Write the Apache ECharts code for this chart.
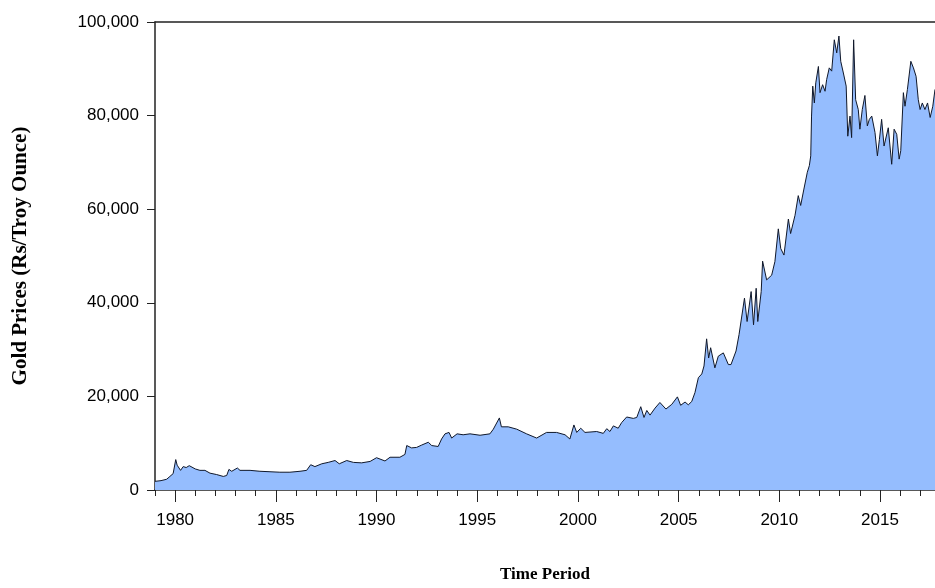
<!DOCTYPE html>
<html>
<head>
<meta charset="utf-8">
<title>Gold Prices</title>
<script src="https://cdn.jsdelivr.net/npm/echarts@6/dist/echarts.min.js"></script>
<style>
  html, body { margin: 0; padding: 0; background: #fff; }
  #chart { width: 935px; height: 588px; }
</style>
</head>
<body>
<div id="chart"></div>
<script>
// time in decimal years, price in Rs per troy ounce
const dates = [
  1979.00, 1979.30, 1979.58, 1979.74, 1979.90, 1980.03, 1980.10, 1980.16, 1980.27, 1980.40,
  1980.55, 1980.70, 1981.00, 1981.23, 1981.48, 1981.73, 1982.06, 1982.39, 1982.56, 1982.67,
  1982.81, 1983.09, 1983.22, 1983.72, 1984.21, 1984.71, 1985.20, 1985.70, 1986.20, 1986.53,
  1986.73, 1986.94, 1987.28, 1987.60, 1987.94, 1988.15, 1988.52, 1988.85, 1989.26, 1989.68,
  1990.00, 1990.42, 1990.67, 1991.16, 1991.41, 1991.50, 1991.74, 1991.99, 1992.24, 1992.57,
  1992.74, 1993.06, 1993.23, 1993.40, 1993.60, 1993.73, 1994.00, 1994.30, 1994.64, 1995.14,
  1995.63, 1995.80, 1996.10, 1996.20, 1996.54, 1996.96, 1997.45, 1997.95, 1998.44, 1998.94,
  1999.36, 1999.60, 1999.80, 1999.94, 2000.14, 2000.35, 2000.93, 2001.26, 2001.43, 2001.59,
  2001.76, 2002.00, 2002.17, 2002.42, 2002.75, 2002.92, 2003.12, 2003.28, 2003.42, 2003.58,
  2003.83, 2004.07, 2004.37, 2004.66, 2004.94, 2005.10, 2005.32, 2005.48, 2005.65, 2005.81,
  2005.98, 2006.15, 2006.26, 2006.39, 2006.49, 2006.59, 2006.80, 2006.97, 2007.22, 2007.47,
  2007.60, 2007.85, 2008.00, 2008.27, 2008.40, 2008.60, 2008.72, 2008.85, 2008.93, 2009.10,
  2009.17, 2009.37, 2009.62, 2009.78, 2009.95, 2010.07, 2010.23, 2010.45, 2010.56, 2010.78,
  2010.94, 2011.06, 2011.22, 2011.39, 2011.49, 2011.56, 2011.60, 2011.66, 2011.74, 2011.81,
  2011.94, 2012.02, 2012.15, 2012.27, 2012.35, 2012.48, 2012.60, 2012.73, 2012.85, 2012.96,
  2013.05, 2013.18, 2013.32, 2013.40, 2013.51, 2013.59, 2013.69, 2013.79, 2013.92, 2014.00,
  2014.12, 2014.25, 2014.37, 2014.47, 2014.59, 2014.75, 2014.87, 2014.97, 2015.08, 2015.20,
  2015.41, 2015.58, 2015.70, 2015.83, 2015.95, 2016.03, 2016.16, 2016.24, 2016.36, 2016.53,
  2016.66, 2016.79, 2016.90, 2016.99, 2017.10, 2017.23, 2017.36, 2017.49, 2017.62, 2017.73
]
const prices = [
  1850, 2000, 2300, 2900, 3500, 6500, 5300, 4900, 4200, 5000,
  4800, 5200, 4500, 4200, 4200, 3600, 3300, 2900, 3100, 4400,
  4000, 4700, 4200, 4200, 4000, 3900, 3800, 3800, 4000, 4200,
  5400, 5000, 5600, 5900, 6300, 5600, 6300, 5900, 5800, 6100,
  6900, 6200, 7000, 7000, 7600, 9500, 9000, 9100, 9600, 10200,
  9500, 9300, 10900, 12000, 12300, 11100, 12000, 11800, 12000, 11700,
  12000, 13000, 15400, 13500, 13500, 13000, 12000, 11100, 12300, 12300,
  11800, 10900, 13900, 12300, 13200, 12300, 12500, 12100, 13100, 12500,
  13700, 13200, 14400, 15600, 15300, 15500, 17800, 15500, 17000, 16000,
  17500, 18700, 17300, 18300, 19900, 18100, 18800, 18200, 18900, 20800,
  24000, 24800, 26500, 32300, 28200, 30400, 26100, 28600, 29300, 26800,
  26800, 29700, 33200, 41000, 36000, 42400, 35300, 43100, 36000, 42400,
  48900, 44900, 45900, 48800, 55800, 51600, 50200, 57900, 54800, 58700,
  62900, 60800, 64300, 67900, 69300, 71400, 79900, 86300, 82700, 87000,
  90500, 84900, 86600, 85200, 87700, 90200, 89500, 96200, 93400, 97000,
  91600, 89100, 86300, 75600, 79900, 75300, 96200, 83400, 81300, 77100,
  81300, 84300, 77800, 79200, 79900, 76400, 71400, 74900, 79200, 73500,
  77400, 69600, 77100, 76000, 70700, 72500, 84900, 82000, 85600, 91600,
  90200, 88400, 83400, 81300, 82700, 81300, 82700, 79600, 82000, 85600
]
const majorYears = [1980, 1985, 1990, 1995, 2000, 2005, 2010, 2015]
const minorYears = [
  1979, 1980, 1981, 1982, 1983, 1984, 1985, 1986, 1987, 1988, 1989, 1990, 1991,
  1992, 1993, 1994, 1995, 1996, 1997, 1998, 1999, 2000, 2001, 2002, 2003, 2004,
  2005, 2006, 2007, 2008, 2009, 2010, 2011, 2012, 2013, 2014, 2015, 2016, 2017
]

const xMin = 1979
const xMax = 2017.73
const axisColor = '#222'
const labelFont = { color: '#000', fontSize: 17, fontFamily: 'Liberation Sans, Arial, sans-serif' }
const titleFont = { color: '#000', fontSize: 17, fontWeight: 'bold', fontFamily: 'Liberation Serif, Times New Roman, serif' }

const chart = echarts.init(document.getElementById('chart'), null, { renderer: 'canvas' })

const option = {
  animation: false,
  grid: { left: 155, top: 22, right: 0, height: 474, containLabel: false },
  xAxis: [
    {
      // minor yearly ticks
      type: 'value', min: xMin, max: xMax, position: 'bottom',
      axisLine: { show: true, lineStyle: { color: axisColor, width: 1.5 } },
      axisTick: { show: true, length: 6, customValues: minorYears, lineStyle: { color: axisColor, width: 1 } },
      axisLabel: { show: false },
      splitLine: { show: false },
      name: 'Time Period',
      nameLocation: 'middle',
      nameGap: 76,
      nameTextStyle: titleFont
    },
    {
      // major ticks every 5 years with labels
      type: 'value', min: xMin, max: xMax, position: 'bottom',
      axisLine: { show: false },
      axisTick: { show: true, length: 12, customValues: majorYears, lineStyle: { color: axisColor, width: 1 } },
      axisLabel: Object.assign({ show: true, margin: 22, customValues: majorYears, formatter: v => String(v) }, labelFont),
      splitLine: { show: false }
    },
    {
      // top frame line
      type: 'value', min: xMin, max: xMax, position: 'top',
      axisLine: { show: true, lineStyle: { color: axisColor, width: 1.5 } },
      axisTick: { show: false },
      axisLabel: { show: false },
      splitLine: { show: false }
    }
  ],
  yAxis: {
    type: 'value', min: 0, max: 100000, interval: 20000,
    axisLine: { show: true, lineStyle: { color: axisColor, width: 1.5 } },
    axisTick: { show: true, length: 8, lineStyle: { color: axisColor, width: 1 } },
    axisLabel: Object.assign({ margin: 16, formatter: v => v.toLocaleString('en-US') }, labelFont),
    splitLine: { show: false },
    name: 'Gold Prices (Rs/Troy Ounce)',
    nameLocation: 'middle',
    nameRotate: 90,
    nameGap: 124,
    nameTextStyle: Object.assign({}, titleFont, { fontSize: 21 })
  },
  series: [
    {
      type: 'line',
      xAxisIndex: 0,
      data: dates.map((d, i) => [d, prices[i]]),
      showSymbol: false,
      smooth: false,
      lineStyle: { color: '#10182a', width: 1 },
      areaStyle: { color: '#95bdfe', opacity: 1 },
      z: 1
    }
  ]
}

chart.setOption(option)

window.addEventListener('resize', () => {
  chart.resize()
})
</script>
</body>
</html>
